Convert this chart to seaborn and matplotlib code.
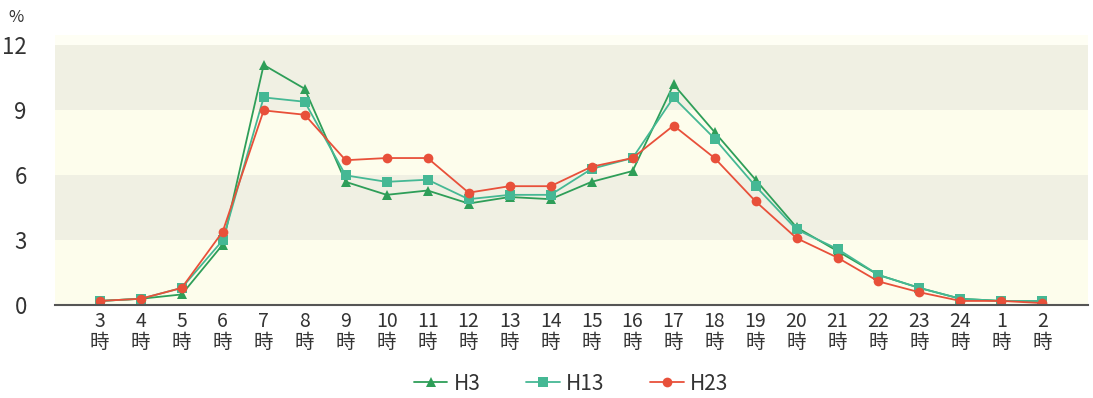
import matplotlib
matplotlib.use("Agg")
import matplotlib.pyplot as plt
import seaborn as sns
import pandas as pd

hours = ["3", "4", "5", "6", "7", "8", "9", "10", "11", "12", "13", "14",
         "15", "16", "17", "18", "19", "20", "21", "22", "23", "24", "1", "2"]
h3 = [0.2, 0.3, 0.5, 2.8, 11.1, 10.0, 5.7, 5.1, 5.3, 4.7, 5.0, 4.9,
      5.7, 6.2, 10.2, 8.0, 5.8, 3.6, 2.5, 1.4, 0.8, 0.3, 0.2, 0.2]
h13 = [0.2, 0.3, 0.8, 3.0, 9.6, 9.4, 6.0, 5.7, 5.8, 4.9, 5.1, 5.1,
       6.3, 6.8, 9.6, 7.7, 5.5, 3.5, 2.6, 1.4, 0.8, 0.3, 0.2, 0.2]
h23 = [0.2, 0.3, 0.8, 3.4, 9.0, 8.8, 6.7, 6.8, 6.8, 5.2, 5.5, 5.5,
       6.4, 6.8, 8.3, 6.8, 4.8, 3.1, 2.2, 1.1, 0.6, 0.2, 0.2, 0.1]
series_names = ["H3", "H13", "H23"]
yticks = [0, 3, 6, 9, 12]

sns.set_theme(style="white")
plt.rcParams["font.family"] = ["Noto Sans CJK JP", "DejaVu Sans"]

rows = []
for name, vals in zip(series_names, [h3, h13, h23]):
    for i, (h, v) in enumerate(zip(hours, vals)):
        rows.append({"idx": i, "hour": h, "value": v, "series": name})
df = pd.DataFrame(rows)

fig = plt.figure(figsize=(10.93, 3.98), dpi=100)
ax = fig.add_axes([0.05, 0.233, 0.945, 0.68])

# background bands
band_colors = ["#fdfdec", "#f0f0e3", "#fdfdec", "#f0f0e3"]
for k in range(4):
    ax.axhspan(yticks[k], yticks[k + 1], color=band_colors[k], zorder=0, lw=0)
ax.axhspan(12, 12.5, color="#fefef4", zorder=0, lw=0)

palette = {"H3": "#2e9e58", "H13": "#45b894", "H23": "#e8503a"}
markers = {"H3": "^", "H13": "s", "H23": "o"}
sns.lineplot(data=df, x="idx", y="value", hue="series", style="series",
             palette=palette, markers=markers, dashes=False,
             markersize=7, markeredgewidth=0, linewidth=1.3, ax=ax,
             hue_order=series_names, style_order=series_names, legend=True)

ax.set_xlim(-1.1, 24.1)
ax.set_ylim(0, 12.5)
ax.set_yticks(yticks)
ax.set_yticklabels([str(t) for t in yticks], fontsize=16, color="#333333")
ax.set_xticks(range(len(hours)))
ax.set_xticklabels([f"{h}\n時" for h in hours], fontsize=14, color="#333333",
                   linespacing=1.0)
ax.tick_params(axis="both", length=0, pad=4)
ax.tick_params(axis="y", pad=20)
ax.set_xlabel("")
ax.set_ylabel("")
for s in ["top", "right", "left"]:
    ax.spines[s].set_visible(False)
ax.spines["bottom"].set_color("#555555")
ax.spines["bottom"].set_linewidth(1.5)
ax.spines["bottom"].set_zorder(5)
ax.set_facecolor("white")

fig.text(0.008, 0.955, "%", fontsize=12, color="#333333", ha="left", va="center")

handles, labels = ax.get_legend_handles_labels()
ax.legend(handles, labels, loc="center", bbox_to_anchor=(0.5, -0.29),
          ncol=3, frameon=False, fontsize=15, handlelength=1.6,
          columnspacing=2.2, handletextpad=0.3, labelcolor="#333333")

fig.savefig("out.png", dpi=100)
